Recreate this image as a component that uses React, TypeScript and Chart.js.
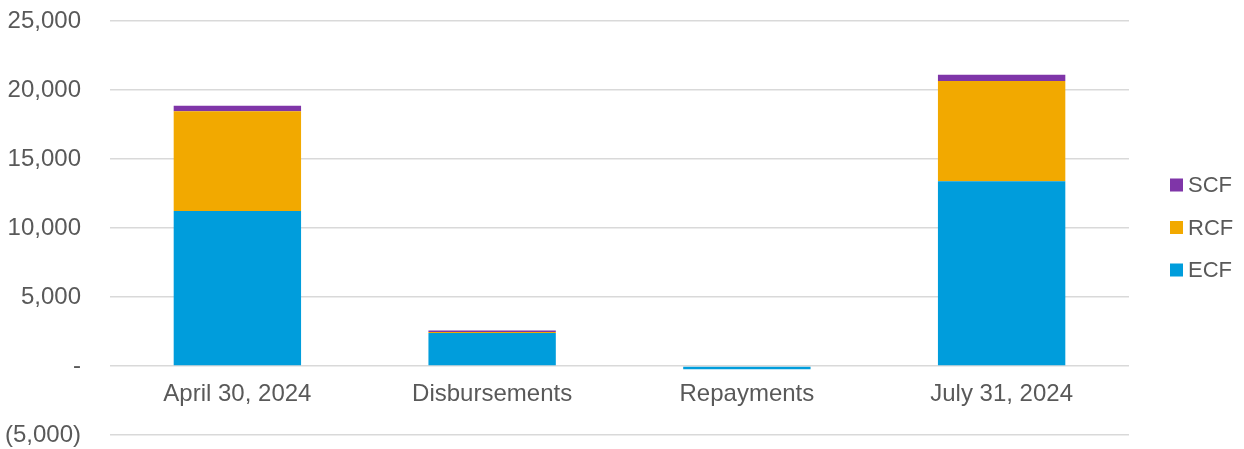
import React, { useEffect, useRef } from "react";
import { Chart, registerables } from "chart.js";

Chart.register(...registerables);

const categories = ["April 30, 2024", "Disbursements", "Repayments", "July 31, 2024"];
const ecfValues = [11230, 2390, -240, 13390];
const rcfValues = [7225, 80, 0, 7265];
const scfValues = [405, 100, 0, 455];
const yMin = -5000;
const yMax = 25000;
const yStep = 5000;

const ECF_COLOR = "#009DDC";
const RCF_COLOR = "#F2A900";
const SCF_COLOR = "#7F35A8";
const TEXT_COLOR = "#595959";
const FONT = "'Liberation Sans', Arial, sans-serif";

function formatTick(v: number): string {
  if (v === 0) return "-";
  const s = Math.abs(v).toLocaleString("en-US");
  return v < 0 ? `(${s})` : s;
}

const customLegend = {
  id: "customLegend",
  afterDraw(chart: any) {
    const ctx = chart.ctx;
    const items = chart.data.datasets.map((d: any) => ({ label: d.label, color: d.backgroundColor })).reverse();
    const boxX = 1170;
    const textX = 1188;
    const startY = 185;
    const gap = 42.5;
    ctx.save();
    ctx.font = `22px ${FONT}`;
    ctx.textBaseline = "middle";
    ctx.textAlign = "left";
    items.forEach((it: any, i: number) => {
      const y = startY + i * gap;
      ctx.fillStyle = it.color;
      ctx.fillRect(boxX, y - 6.5, 13, 13);
      ctx.fillStyle = TEXT_COLOR;
      ctx.fillText(it.label, textX, y + 1);
    });
    ctx.restore();
  },
};

export default function App() {
  const canvasRef = useRef<HTMLCanvasElement | null>(null);

  useEffect(() => {
    if (!canvasRef.current) return;
    const chart = new Chart(canvasRef.current, {
      type: "bar",
      data: {
        labels: categories,
        datasets: [
          { label: "ECF", data: ecfValues, backgroundColor: ECF_COLOR },
          { label: "RCF", data: rcfValues, backgroundColor: RCF_COLOR },
          { label: "SCF", data: scfValues, backgroundColor: SCF_COLOR },
        ],
      },
      options: {
        animation: false,
        responsive: true,
        maintainAspectRatio: false,
        layout: { padding: { top: 0, bottom: 0, left: 0, right: 115 } },
        datasets: {
          bar: { barPercentage: 1, categoryPercentage: 0.5 },
        },
        plugins: {
          legend: { display: false },
          tooltip: { enabled: false },
        },
        scales: {
          x: {
            stacked: true,
            position: { y: 0 },
            grid: { display: false, drawTicks: false },
            border: { display: false },
            ticks: {
              color: TEXT_COLOR,
              font: { family: FONT, size: 24 },
              padding: 14,
              maxRotation: 0,
              autoSkip: false,
            },
          },
          y: {
            stacked: true,
            min: yMin,
            max: yMax,
            grid: { color: "#D9D9D9", lineWidth: 1.5, drawTicks: false },
            border: { display: false },
            ticks: {
              stepSize: yStep,
              color: TEXT_COLOR,
              font: { family: FONT, size: 24 },
              padding: 29,
              callback: (v: any) => formatTick(Number(v)),
            },
            afterFit: (scale: any) => {
              scale.width = 110;
              scale.paddingTop = 21;
              scale.paddingBottom = 14;
            },
          },
        },
      },
      plugins: [customLegend],
    });
    return () => chart.destroy();
  }, []);

  return (
    <div style={{ position: "fixed", left: 0, top: 0, width: 1244, height: 449 }}>
      <canvas ref={canvasRef} />
    </div>
  );
}
